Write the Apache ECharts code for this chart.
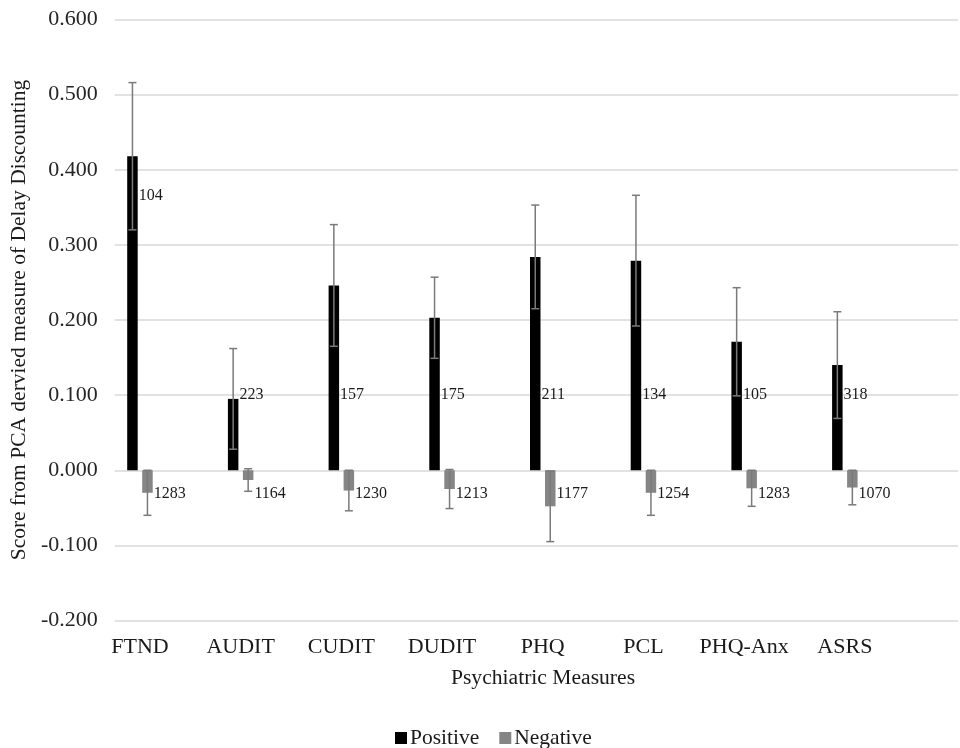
<!DOCTYPE html>
<html>
<head>
<meta charset="utf-8">
<script src="https://cdn.jsdelivr.net/npm/echarts@6/dist/echarts.min.js"></script>
<style>
html,body{margin:0;padding:0;background:#fff;}
#chart{width:960px;height:748px;}
</style>
</head>
<body>
<div id="chart"></div>
<script>
const categories = ['FTND', 'AUDIT', 'CUDIT', 'DUDIT', 'PHQ', 'PCL', 'PHQ-Anx', 'ASRS'];
const positiveMean = [0.418, 0.095, 0.246, 0.203, 0.284, 0.279, 0.171, 0.140];
const positiveErr  = [0.098, 0.067, 0.081, 0.054, 0.069, 0.087, 0.072, 0.071];
const negativeMean = [-0.030, -0.013, -0.027, -0.025, -0.048, -0.030, -0.024, -0.023];
const negativeErr  = [0.030, 0.015, 0.027, 0.026, 0.047, 0.030, 0.024, 0.023];
const positiveN = ['104', '223', '157', '175', '211', '134', '105', '318'];
const negativeN = ['1283', '1164', '1230', '1213', '1177', '1254', '1283', '1070'];
const yTicks = { min: -0.2, max: 0.6, interval: 0.1 };

const FONT = '"Liberation Serif", "Times New Roman", serif';
const BAR_W = 10.5, BAR_GAP = 4.5;
const ERR_COLOR = '#7a7a7a';

function errorSeries(means, errs, ns, side, labelLevel) {
  const offset = side * (BAR_W + BAR_GAP) / 2;
  return {
    type: 'custom',
    xAxisIndex: 1, yAxisIndex: 1,
    z: 5,
    silent: true,
    data: means.map((m, i) => [i, m, errs[i]]),
    renderItem: function (params, api) {
      const i = api.value(0), m = api.value(1), e = api.value(2);
      const x = api.coord([i, m])[0] + offset;
      const yHi = api.coord([i, m + e])[1];
      const yLo = api.coord([i, m - e])[1];
      const ly = api.coord([i, labelLevel(i)])[1];
      const cap = 4;
      const st = { stroke: ERR_COLOR, lineWidth: 1.5 };
      return {
        type: 'group',
        children: [
          { type: 'line', shape: { x1: x, y1: yHi, x2: x, y2: yLo }, style: st },
          { type: 'line', shape: { x1: x - cap, y1: yHi, x2: x + cap, y2: yHi }, style: st },
          { type: 'line', shape: { x1: x - cap, y1: yLo, x2: x + cap, y2: yLo }, style: st },
          { type: 'text', x: x + BAR_W / 2 + 1, y: ly,
            style: { text: ns[i], fill: '#1a1a1a', font: '16px ' + FONT,
                     textAlign: 'left', textVerticalAlign: 'middle' } }
        ]
      };
    }
  };
}

const chart = echarts.init(document.getElementById('chart'), null, { renderer: 'canvas' });
const option = {
  backgroundColor: '#ffffff',
  animation: false,
  textStyle: { fontFamily: FONT },
  grid: [
    { left: 114, right: 2, top: 19.5, bottom: 127.5 },
    { left: 89.6, width: 805.6, top: 19.5, bottom: 127.5 }
  ],
  xAxis: [
    { gridIndex: 0, type: 'value', show: false, min: 0, max: 1 },
    { gridIndex: 1, type: 'category', data: categories,
      axisLine: { show: false }, axisTick: { show: false },
      axisLabel: { interval: 0, fontFamily: FONT, fontSize: 22, color: '#1a1a1a', margin: 16 } }
  ],
  yAxis: [
    { gridIndex: 0, type: 'value', min: yTicks.min, max: yTicks.max, interval: yTicks.interval,
      name: 'Score from PCA dervied measure of Delay Discounting',
      nameLocation: 'middle', nameGap: 83,
      nameTextStyle: { fontFamily: FONT, fontSize: 21.5, color: '#1a1a1a' },
      axisLine: { show: false }, axisTick: { show: false },
      axisLabel: { fontFamily: FONT, fontSize: 22, color: '#262626', margin: 17,
                   formatter: v => v.toFixed(3) },
      splitLine: { show: true, lineStyle: { color: '#d9d9d9', width: 1.5 } } },
    { gridIndex: 1, type: 'value', min: yTicks.min, max: yTicks.max, interval: yTicks.interval,
      show: false, splitLine: { show: false } }
  ],
  legend: {
    data: ['Positive', 'Negative'],
    left: 390, top: 722,
    icon: 'rect', itemWidth: 12, itemHeight: 12, itemGap: 20,
    textStyle: { fontFamily: FONT, fontSize: 21.5, color: '#1a1a1a', padding: [0, 0, 0, -2] }
  },
  graphic: [
    { type: 'text', x: 543, y: 678,
      style: { text: 'Psychiatric Measures', font: '21.6px ' + FONT, fill: '#1a1a1a',
               textAlign: 'center', textVerticalAlign: 'middle' } }
  ],
  series: [
    { name: 'Positive', type: 'bar', xAxisIndex: 1, yAxisIndex: 1,
      data: positiveMean, barWidth: BAR_W, barGap: (BAR_GAP / BAR_W * 100) + '%',
      itemStyle: { color: '#000000' } },
    { name: 'Negative', type: 'bar', xAxisIndex: 1, yAxisIndex: 1,
      data: negativeMean, barWidth: BAR_W,
      itemStyle: { color: '#858585' } },
    errorSeries(positiveMean, positiveErr, positiveN, -1, i => (i === 0 ? 0.365 : 0.101)),
    errorSeries(negativeMean, negativeErr, negativeN, 1, i => -0.031)
  ]
};
chart.setOption(option);
</script>
</body>
</html>
